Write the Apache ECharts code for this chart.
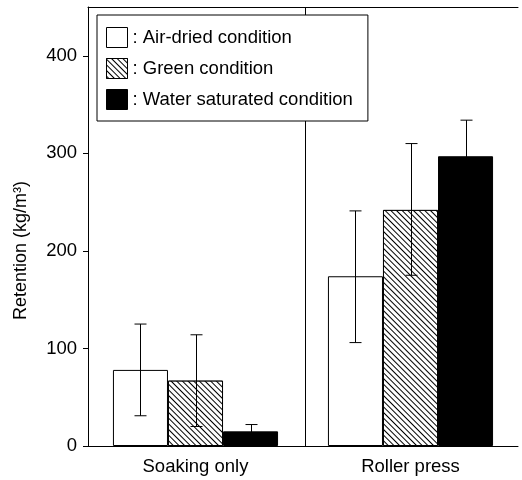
<!DOCTYPE html>
<html>
<head>
<meta charset="utf-8">
<script src="https://cdn.jsdelivr.net/npm/echarts@6/dist/echarts.min.js"></script>
<style>html,body{margin:0;padding:0;background:#fff}#c{width:522px;height:480px}</style>
</head>
<body>
<div id="c"></div>
<script>
var categories = ['Soaking only', 'Roller press'];
var seriesNames = ['Air-dried condition', 'Green condition', 'Water saturated condition'];
var airDried = [78, 174];
var green = [67, 242];
var water = [15, 297];
var airErrLow = [31, 106];
var airErrHigh = [125, 241];
var greenErrLow = [20, 175];
var greenErrHigh = [114, 310];
var waterErrLow = [9, 259];
var waterErrHigh = [22, 334];
var yMin = 0, yMax = 450, yInterval = 100;

var FONT = 'Liberation Sans, Arial, Helvetica, sans-serif';
var BAR_FRAC = 0.256;

function errData(lo, hi) {
  return categories.map(function (c, i) { return [i, lo[i], hi[i]]; });
}
function errSeries(lo, hi, k) {
  return {
    type: 'custom',
    xAxisIndex: 0, yAxisIndex: 0,
    z: 5,
    silent: true,
    data: errData(lo, hi),
    renderItem: function (params, api) {
      var band = api.size([1, 0])[0];
      var off = (k - 1) * band * BAR_FRAC;
      var pHi = api.coord([api.value(0), api.value(2)]);
      var pLo = api.coord([api.value(0), api.value(1)]);
      var x = Math.round(pHi[0] + off) + 0.5;
      var cap = 6;
      var st = { stroke: '#000', lineWidth: 1 };
      return {
        type: 'group',
        children: [
          { type: 'line', shape: { x1: x, y1: pHi[1], x2: x, y2: pLo[1] }, style: st },
          { type: 'line', shape: { x1: x - cap, y1: pHi[1], x2: x + cap, y2: pHi[1] }, style: st },
          { type: 'line', shape: { x1: x - cap, y1: pLo[1], x2: x + cap, y2: pLo[1] }, style: st }
        ]
      };
    }
  };
}

var hatch = {
  symbol: 'rect', color: '#000', backgroundColor: '#fff',
  dashArrayX: [1, 0], dashArrayY: [1, 2.4],
  rotation: Math.PI / 4, symbolSize: 1
};

var chart = echarts.init(document.getElementById('c'));
chart.setOption({
  animation: false,
  backgroundColor: '#fff',
  textStyle: { fontFamily: FONT },
  grid: { left: 88, right: 4, top: 7, bottom: 34 },
  legend: {
    data: seriesNames.map(function (n) { return { name: n, icon: 'rect' }; }),
    orient: 'vertical',
    left: 97, top: 15,
    padding: [12, 15, 11, 9],
    itemGap: 10,
    itemWidth: 21, itemHeight: 20,
    backgroundColor: '#fff',
    borderColor: '#000', borderWidth: 1,
    z: 10,
    itemStyle: { borderColor: '#000', borderWidth: 1 },
    formatter: function (n) { return ': ' + n; },
    textStyle: { fontSize: 18.5, color: '#000', fontFamily: FONT }
  },
  xAxis: [{
    type: 'category',
    data: categories,
    axisLine: { lineStyle: { color: '#000', width: 1 } },
    axisTick: { show: false },
    axisLabel: { color: '#000', fontSize: 18.5, margin: 11, fontFamily: FONT }
  }, {
    type: 'value',
    min: 0, max: 2,
    position: 'top',
    axisLine: { show: true, onZero: false, lineStyle: { color: '#000', width: 1 } },
    axisTick: { show: false },
    axisLabel: { show: false },
    splitLine: { show: false }
  }],
  yAxis: {
    type: 'value',
    min: yMin, max: yMax, interval: yInterval,
    name: 'Retention (kg/m³)',
    nameLocation: 'middle',
    nameGap: 58,
    nameTextStyle: { color: '#000', fontSize: 18, fontFamily: FONT, padding: [0, 48, 0, 0] },
    axisLine: { show: true, lineStyle: { color: '#000', width: 1 } },
    axisTick: { show: true, length: 5, lineStyle: { color: '#000' } },
    axisLabel: { color: '#000', fontSize: 18.5, margin: 11, showMaxLabel: false, fontFamily: FONT },
    splitLine: { show: false }
  },
  series: [
    {
      name: seriesNames[0], type: 'bar', data: airDried,
      barWidth: (BAR_FRAC * 100) + '%', barGap: '0%',
      itemStyle: { color: '#fff', borderColor: '#000', borderWidth: 1 }
    },
    {
      name: seriesNames[1], type: 'bar', data: green,
      barWidth: (BAR_FRAC * 100) + '%', barGap: '0%',
      itemStyle: { color: '#fff', borderColor: '#000', borderWidth: 1, decal: hatch }
    },
    {
      name: seriesNames[2], type: 'bar', data: water,
      barWidth: (BAR_FRAC * 100) + '%', barGap: '0%',
      itemStyle: { color: '#000', borderColor: '#000', borderWidth: 1 }
    },
    errSeries(airErrLow, airErrHigh, 0),
    errSeries(greenErrLow, greenErrHigh, 1),
    errSeries(waterErrLow, waterErrHigh, 2),
    {
      type: 'line', xAxisIndex: 1, yAxisIndex: 0, data: [],
      silent: true,
      markLine: {
        silent: true, symbol: 'none',
        label: { show: false },
        lineStyle: { color: '#000', width: 1, type: 'solid' },
        data: [{ xAxis: 1.01 }]
      }
    }
  ]
});
</script>
</body>
</html>
